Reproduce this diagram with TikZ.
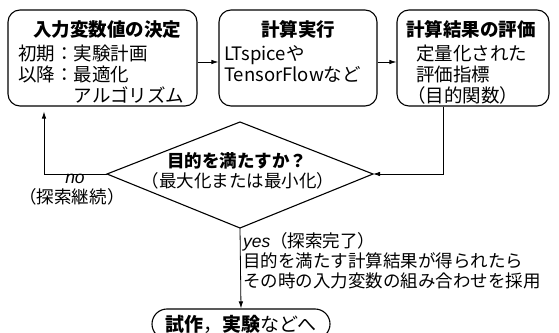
\documentclass[tikz,border=0pt]{standalone}
\usepackage{fontspec}
\setmainfont{Noto Sans CJK JP}
\newfontfamily\latinit{Liberation Sans}
\usetikzlibrary{arrows.meta}
\begin{document}
\begin{tikzpicture}[x=1pt,y=1pt,
  font=\fontsize{17.5}{20}\selectfont,
  boxfont/.style={font=\fontsize{18.5}{21}\selectfont},
  box/.style={draw, line width=1.1pt, rounded corners=12pt, minimum width=#1, minimum height=96pt, inner sep=0pt},
  ttl/.style={font=\fontsize{18.5}{21}\selectfont\bfseries, inner sep=0pt},
  body/.style={boxfont, align=left, inner sep=0pt, anchor=north west},
  conn/.style={line width=0.8pt},
  arr/.style={conn, -{Latex[length=7pt,width=4.5pt]}}
]
\useasboundingbox (0,0) rectangle (559,332);
% boxes
\node[box=189pt] (b1) at (102.5,274) {};
\node[box=158pt] (b2) at (298,274) {};
\node[box=152pt] (b3) at (473,274) {};
\node[ttl] (t1) at (107,302.5) {入力変数値の決定};
\node[ttl] (t2) at (298,302.5) {計算実行};
\node[ttl] (t3) at (471,302.5) {計算結果の評価};
\node[body] (c1) at (18,287) {初期：実験計画\\以降：最適化\\\phantom{以降：}アルゴリズム};
\node[body] (c2) at (224,287) {LTspiceや\\TensorFlowなど};
\node[body] (c3) at (416,287) {定量化された\\評価指標\\\hspace*{-9pt}（目的関数）};
% diamond
\coordinate (dt) at (240,210);
\coordinate (db) at (240,104);
\coordinate (dl) at (107,158);
\coordinate (dr) at (373,158);
\draw[line width=1.1pt] (dl) -- (dt) -- (dr) -- (db) -- cycle;
\node[ttl, font=\fontsize{17.5}{20}\selectfont\bfseries] (q1) at (237,171) {目的を満たすか？};
\node[inner sep=0pt] (q2) at (238,151) {（最大化または最小化）};
% final node
\node[draw, line width=1.1pt, rounded corners=15pt, minimum width=178pt, minimum height=30pt, inner sep=0pt, font=\fontsize{19}{21}\selectfont] (fin) at (241,8) {\textbf{試作}，\textbf{実験}などへ};
% connectors
\coordinate (ya) at (0,270);
\draw[arr] (b1.east |- ya) -- (b2.west |- ya);
\draw[arr] (b2.east |- ya) -- (b3.west |- ya);
\coordinate (nx) at (44,158);
\draw[arr, shorten >=5pt] (dl) -- (nx) -- (nx |- b1.south);
\coordinate (ex) at (443,158);
\draw[arr] (b3.south -| ex) -- (ex) -- (dr);
\draw[arr] (db) -- (fin.north);
% labels
\node[inner sep=0pt] (nol) at (75,153) {\latinit\itshape no};
\node[inner sep=0pt] (nol2) at (72,135) {（探索継続）};
\node[inner sep=0pt, align=left, anchor=north west] (yl) at (243,100) {{\latinit\itshape yes}（探索完了）\\目的を満たす計算結果が得られたら\\その時の入力変数の組み合わせを採用};
\end{tikzpicture}
\end{document}
